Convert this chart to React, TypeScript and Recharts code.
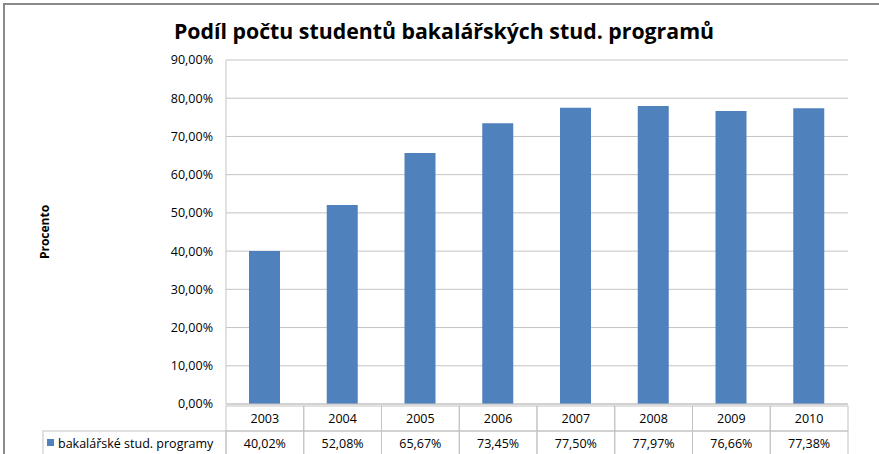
import React from "react";
import { BarChart, Bar, XAxis, YAxis, CartesianGrid } from "recharts";

const years = ["2003", "2004", "2005", "2006", "2007", "2008", "2009", "2010"];
const shares = [40.02, 52.08, 65.67, 73.45, 77.5, 77.97, 76.66, 77.38];
const yTicks = [0, 10, 20, 30, 40, 50, 60, 70, 80, 90];
const seriesName = "bakalářské stud. programy";
const title = "Podíl počtu studentů bakalářských stud. programů";
const axisTitle = "Procento";

const data = years.map((year, i) => ({ year, share: shares[i] }));

const FONT = "'Open Sans', sans-serif";
const BLUE = "#4f81bd";
const GRID = "#c3c3c3";
const W = 879;
const H = 454;
const PLOT_LEFT = 226;
const PLOT_RIGHT = 848;
const ROW_H = 25;
const LEGEND_LEFT = 43;

const band = (PLOT_RIGHT - PLOT_LEFT) / years.length;

function fmt(v: number): string {
  return v.toFixed(2).replace(".", ",") + "%";
}

function YearCell({ x, y, payload }: any) {
  return (
    <g>
      <rect x={x - band / 2} y={y} width={band} height={ROW_H} fill="none" stroke={GRID} />
      <text x={x} y={y + 17} textAnchor="middle" fontSize={12.5} fontFamily={FONT} fill="#000">
        {payload.value}
      </text>
    </g>
  );
}

function ValueCell({ x, y, index }: any) {
  const left = x - band / 2;
  return (
    <g>
      {index === 0 && (
        <g>
          <rect x={LEGEND_LEFT} y={y} width={left - LEGEND_LEFT} height={ROW_H + 4} fill="none" stroke={GRID} />
          <rect x={LEGEND_LEFT + 4} y={y + 8} width={7} height={7} fill={BLUE} />
          <text x={LEGEND_LEFT + 15} y={y + 17} fontSize={12.5} fontFamily={FONT} fill="#000">
            {seriesName}
          </text>
        </g>
      )}
      <rect x={left} y={y} width={band} height={ROW_H + 4} fill="none" stroke={GRID} />
      <text x={x} y={y + 17} textAnchor="middle" fontSize={12.5} fontFamily={FONT} fill="#000">
        {fmt(shares[index])}
      </text>
    </g>
  );
}

export default function App() {
  return (
    <div
      style={{
        position: "fixed",
        left: 0,
        top: 0,
        width: W,
        height: H,
        background: "#fff",
        overflow: "hidden",
        fontFamily: FONT,
      }}
    >
      <div
        style={{
          position: "absolute",
          left: 3,
          top: 3,
          width: 920,
          height: 520,
          border: "2px solid #8a8a8a",
        }}
      />
      <div
        style={{
          position: "absolute",
          left: 4,
          width: 880,
          top: 16,
          textAlign: "center",
          fontSize: 21.3,
          fontWeight: 700,
          color: "#000",
          whiteSpace: "nowrap",
        }}
      >
        {title}
      </div>
      <div
        style={{
          position: "absolute",
          left: 44,
          top: 232,
          transform: "translate(-50%, -50%) rotate(-90deg)",
          fontSize: 12,
          fontWeight: 700,
          whiteSpace: "nowrap",
        }}
      >
        {axisTitle}
      </div>
      <div style={{ position: "absolute", left: 0, top: 0 }}>
        <BarChart
          width={W}
          height={H + 5}
          data={data}
          margin={{ top: 60, right: W - PLOT_RIGHT, bottom: 0, left: PLOT_LEFT - 70 }}
        >
          <CartesianGrid vertical={false} stroke={GRID} />
          <YAxis
            width={70}
            domain={[0, 90]}
            ticks={yTicks}
            tickFormatter={fmt}
            axisLine={{ stroke: GRID }}
            tickLine={false}
            tickSize={0}
            tickMargin={13}
            tick={{ fontSize: 12.5, fontFamily: FONT, fill: "#000" }}
            interval={0}
          />
          <XAxis
            xAxisId="a-year"
            dataKey="year"
            height={ROW_H}
            axisLine={{ stroke: GRID }}
            tickLine={false}
            tickSize={0}
            tick={<YearCell />}
            interval={0}
          />
          <XAxis
            xAxisId="b-value"
            dataKey="year"
            height={ROW_H + 5}
            axisLine={false}
            tickLine={false}
            tickSize={0}
            tick={<ValueCell />}
            interval={0}
          />
          <Bar xAxisId="a-year" dataKey="share" fill={BLUE} barSize={31} isAnimationActive={false} />
        </BarChart>
      </div>
    </div>
  );
}
